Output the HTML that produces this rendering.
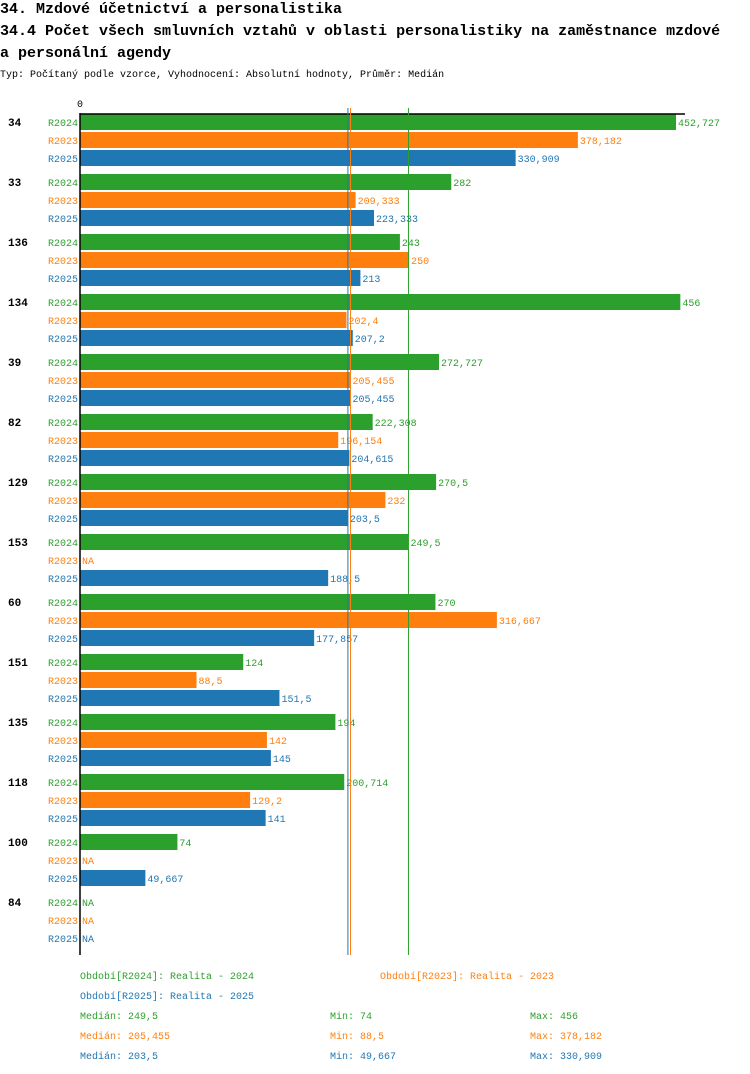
<!DOCTYPE html>
<html><head><meta charset="utf-8"><style>
body{margin:0;background:#fff;width:750px;height:1074px;overflow:hidden}
svg{display:block;font-family:"Liberation Mono",monospace}
</style></head><body>
<svg id="c" width="750" height="1074">
<text x="0" y="13" font-size="15" font-weight="bold">34. Mzdové účetnictví a personalistika</text>
<text x="0" y="35" font-size="15" font-weight="bold">34.4 Počet všech smluvních vztahů v oblasti personalistiky na zaměstnance mzdové</text>
<text x="0" y="57" font-size="15" font-weight="bold">a personální agendy</text>
<text x="0" y="77" font-size="10">Typ: Počítaný podle vzorce, Vyhodnocení: Absolutní hodnoty, Průměr: Medián</text>
<text x="80" y="107" font-size="10" text-anchor="middle">0</text>
</svg>
<script>
const groups=["34","33","136","134","39","82","129","153","60","151","135","118","100","84"];
const seriesNames=["R2024","R2023","R2025"];
const v2024=[452.727,282,243,456,272.727,222.308,270.5,249.5,270,124,194,200.714,74,null];
const v2023=[378.182,209.333,250,202.4,205.455,196.154,232,null,316.667,88.5,142,129.2,null,null];
const v2025=[330.909,223.333,213,207.2,205.455,204.615,203.5,188.5,177.857,151.5,145,141,49.667,null];
const medians=[249.5,205.455,203.5];
const mins=[74,88.5,49.667];
const maxs=[456,378.182,330.909];
const colors=["#2ca02c","#ff7f0e","#1f77b4"];
const svg=document.getElementById('c');const NS='http://www.w3.org/2000/svg';
const x0=80,scale=1.3165;
const xs=v=>x0+v*scale;
const yRow=(g,s)=>122+g*60+s*18;
function mk(t,a){const e=document.createElementNS(NS,t);for(const k in a)e.setAttribute(k,a[k]);svg.appendChild(e);return e;}
const fmt=v=>String(v).replace('.',',');
const data=[v2024,v2023,v2025];
groups.forEach((g,gi)=>{
 const t=mk('text',{x:8,y:yRow(gi,0)+4,'font-size':11,'font-weight':'bold'});t.textContent=g;
 
 
 data.forEach((arr,si)=>{
  const y=yRow(gi,si);
  const l=mk('text',{x:78,y:y+4,'font-size':10,'text-anchor':'end',fill:colors[si]});l.textContent=seriesNames[si];
  
  
  const v=arr[gi];
  if(v!=null){
   const r=mk('rect',{x:x0,y:y-8,width:xs(v)-x0,height:16,fill:colors[si]});
   
   
  }
  const vl=mk('text',{x:(v!=null?xs(v):x0)+2,y:y+4,'font-size':10,fill:colors[si]});vl.textContent=v!=null?fmt(v):'NA';
  
  
 });
});
const ax=mk('line',{x1:80,y1:114,x2:685,y2:114,stroke:'#000','stroke-width':1.5});


const ay=mk('line',{x1:80,y1:113,x2:80,y2:955,stroke:'#000','stroke-width':1.5});


medians.forEach((m,i)=>{
 const ln=mk('line',{x1:xs(m),y1:108,x2:xs(m),y2:955,stroke:colors[i],'stroke-width':1});
 
 
});
const legs=[["Období[R2024]: Realita - 2024",80,979,0],["Období[R2023]: Realita - 2023",380,979,1],["Období[R2025]: Realita - 2025",80,999,2]];
legs.forEach(l=>{const t=mk('text',{x:l[1],y:l[2],'font-size':10,fill:colors[l[3]]});t.textContent=l[0];
 
 });
[0,1,2].forEach(i=>{
 const y=1019+i*20;
 [["Medián: "+fmt(medians[i]),80],["Min: "+fmt(mins[i]),330],["Max: "+fmt(maxs[i]),530]].forEach(s=>{
  const t=mk('text',{x:s[1],y:y,'font-size':10,fill:colors[i]});t.textContent=s[0];
  
  
 });
});
</script>
</body></html>
